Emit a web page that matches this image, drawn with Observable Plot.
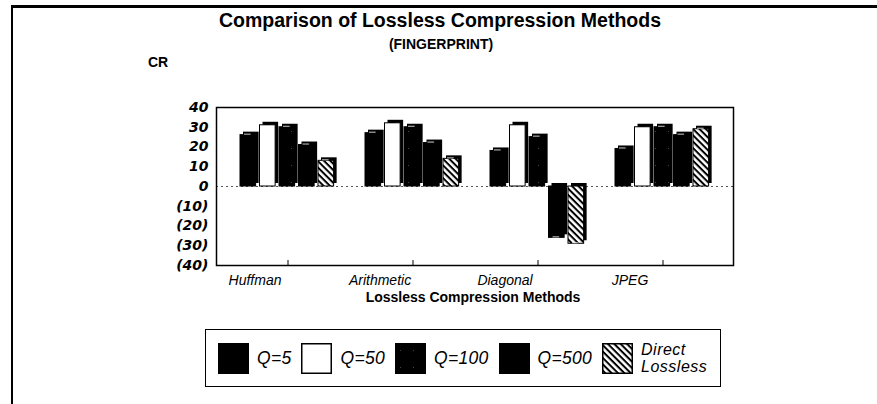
<!DOCTYPE html>
<html>
<head>
<meta charset="utf-8">
<script src="https://cdn.jsdelivr.net/npm/d3@7"></script>
<script src="https://cdn.jsdelivr.net/npm/@observablehq/plot@0.6"></script>
<style>
  html, body { margin: 0; padding: 0; background: #fff; }
  #wrap { position: relative; width: 877px; height: 404px; overflow: hidden; font-family: "Liberation Sans", Arial, sans-serif; color: #000; }
  .abs { position: absolute; }
  #title { left: 0; width: 880px; top: 9px; text-align: center; font-weight: bold; font-size: 19.5px; }
  #subtitle { left: 0; width: 882px; top: 36px; text-align: center; font-weight: bold; font-size: 14px; }
  #cr { left: 148px; top: 54px; font-weight: bold; font-size: 14px; }
  #chart { left: 0; top: 90px; }
  #xtitle { left: 0; width: 946px; top: 289px; text-align: center; font-weight: bold; font-size: 14px; }
  #legend { left: 205px; top: 329px; width: 516px; height: 58px; border: 1.5px solid #000; box-sizing: border-box;
            display: flex; align-items: center; padding-left: 12px; }
  .item { display: flex; align-items: center; margin-right: 10px; }
  .sw { width: 31px; height: 31px; display: block; margin-right: 8px; }
  .lab { font-style: italic; font-size: 17.5px; letter-spacing: 0.3px; line-height: 18px; }
  .lab2 { font-style: italic; font-size: 16px; letter-spacing: 0.5px; line-height: 17px; }
</style>
</head>
<body>
<svg width="0" height="0" style="position:absolute">
  <defs>
    <pattern id="hatch" width="4.5" height="4.5" patternUnits="userSpaceOnUse" patternTransform="rotate(45)">
      <rect width="4.5" height="4.5" fill="#fff"></rect>
      <rect x="0" y="0" width="4.5" height="2" fill="#000"></rect>
    </pattern>
    <pattern id="speck" width="13" height="17" patternUnits="userSpaceOnUse">
      <rect width="13" height="17" fill="#000"></rect>
      <rect x="5" y="7" width="1" height="1" fill="#444"></rect>
    </pattern>
  </defs>
</svg>
<div id="wrap">
  <div class="abs" style="left:12px;top:5px;width:865px;height:3px;background:#000"></div>
  <div class="abs" style="left:11px;top:5px;width:2px;height:399px;background:#000"></div>
  <div id="title" class="abs">Comparison of Lossless Compression Methods</div>
  <div id="subtitle" class="abs">(FINGERPRINT)</div>
  <div id="cr" class="abs">CR</div>
  <div id="chart" class="abs"></div>
  <div id="xtitle" class="abs">Lossless Compression Methods</div>
  <div id="legend" class="abs"></div>
</div>
<script>
// ---- data ----
const methods = ["Huffman", "Arithmetic", "Diagonal", "JPEG"];
const seriesNames = ["Q=5", "Q=50", "Q=100", "Q=500", "Direct Lossless"];
const q5     = [26, 27, 18, 19];
const q50    = [31, 32, 31, 30];
const q100   = [30, 30, 25, 30];
const q500   = [21, 22, -26, 26];
const direct = [13, 14, -29, 29];
const yTicks = [40, 30, 20, 10, 0, -10, -20, -30, -40];
const seriesFills = ["#000", "#fff", "url(#speck)", "#000", "url(#hatch)"];

const seriesValues = [q5, q50, q100, q500, direct];

const W = 877, H = 220, mL = 216, mR = 144;
const padIn = 0.24, padOut = 0.18;
const step = (W - mL - mR) / (methods.length - padIn + 2 * padOut);
const bw = step * (1 - padIn);
const barW = 16, barStep = 19.5, depth = 3;

const marks = [
  Plot.ruleY([0], {stroke: "#555", strokeDasharray: "2,3"}),
  Plot.ruleX(methods, {x: d => d, y1: -40, y2: -37.5, stroke: "#000"})
];
seriesValues.forEach((vals, i) => {
  const data = methods.map((m, j) => ({method: m, value: vals[j]}));
  const insetLeft = i * barStep;
  const insetRight = bw - insetLeft - barW;
  marks.push(Plot.barY(data, {x: "method", y: "value", insetLeft, insetRight, dx: depth, dy: -depth, fill: "#000"}));
  marks.push(Plot.barY(data, {x: "method", y: "value", insetLeft, insetRight, fill: seriesFills[i], stroke: "#000", strokeWidth: 1}));
  // thin light edge where the front face meets the top face
  marks.push(Plot.tickY(data, {x: "method", y: "value", insetLeft: insetLeft + 4, insetRight: insetRight + 5, dy: -1,
    stroke: i === 1 ? "#000" : "#fff", strokeWidth: 1, strokeOpacity: 0.8}));
});
marks.push(Plot.text(yTicks, {
  y: d => d, frameAnchor: "left", dx: -8, textAnchor: "end",
  text: d => d < 0 ? `(${-d})` : `${d}`,
  fontFamily: "DejaVu Sans", fontStyle: "italic", fontWeight: "bold", fontSize: 14
}));
marks.push(Plot.text(methods, {
  x: d => d, y: -40, dy: 15, dx: -33, text: d => d,
  fontFamily: "Liberation Sans", fontStyle: "italic", fontSize: 14
}));
marks.push(Plot.frame({stroke: "#000", strokeWidth: 1.5}));

const chart = Plot.plot({
  width: W, height: H,
  marginLeft: mL, marginRight: mR, marginTop: 17, marginBottom: 45,
  x: {domain: methods, paddingInner: padIn, paddingOuter: padOut, axis: null},
  y: {domain: [-40, 40], axis: null},
  style: {background: "transparent", color: "#000", overflow: "visible"},
  marks
});
document.getElementById("chart").appendChild(chart);

// ---- legend ----
const legend = document.getElementById("legend");
seriesNames.forEach((name, i) => {
  const item = document.createElement("div");
  item.className = "item";
  item.innerHTML = `<svg class="sw" viewBox="0 0 31 31"><rect x="0.75" y="0.75" width="29.5" height="29.5" fill="${seriesFills[i]}" stroke="#000" stroke-width="1.5"></rect></svg>`;
  const lab = document.createElement("div");
  if (name === "Direct Lossless") {
    lab.innerHTML = `<div class="lab2">Direct</div><div class="lab2">Lossless</div>`;
  } else {
    lab.className = "lab";
    lab.textContent = name;
  }
  item.appendChild(lab);
  legend.appendChild(item);
});
</script>
</body>
</html>
